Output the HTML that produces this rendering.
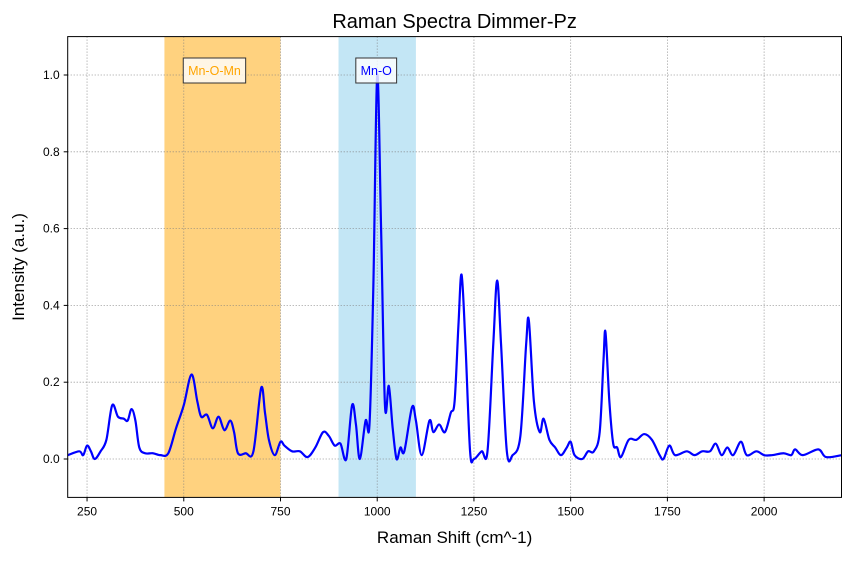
<!DOCTYPE html>
<html><head><meta charset="utf-8"><style>
body{margin:0;background:#fff;font-family:"Liberation Sans",sans-serif}
</style></head><body>
<svg id="chart" width="851" height="556" xmlns="http://www.w3.org/2000/svg" font-family="Liberation Sans, sans-serif"></svg>
<script>
const shiftValues=[200,230,240,250,260,270,285,300,315,330,345,355,365,375,385,400,420,440,460,480,500,520,535,545,560,575,590,605,620,630,640,660,680,700,710,720,735,750,760,780,800,820,840,860,875,890,905,920,935,945,955,970,980,990,1000,1010,1020,1030,1040,1050,1060,1070,1090,1100,1115,1135,1145,1160,1175,1190,1200,1210,1218,1228,1240,1250,1270,1285,1300,1310,1320,1335,1350,1370,1385,1392,1405,1420,1430,1445,1460,1475,1490,1500,1510,1530,1545,1560,1575,1585,1590,1600,1610,1620,1630,1650,1670,1690,1710,1730,1740,1755,1770,1800,1820,1840,1860,1875,1890,1905,1920,1940,1955,1980,2000,2020,2050,2070,2080,2100,2140,2160,2200];
const intensityValues=[0.01,0.02,0.01,0.035,0.02,0.0,0.02,0.05,0.14,0.11,0.105,0.10,0.13,0.10,0.03,0.015,0.015,0.01,0.015,0.08,0.14,0.22,0.15,0.11,0.115,0.08,0.11,0.075,0.10,0.07,0.015,0.015,0.02,0.185,0.12,0.05,0.01,0.045,0.035,0.02,0.02,0.005,0.03,0.07,0.06,0.035,0.04,0.0,0.14,0.09,0.0,0.10,0.09,0.45,1.0,0.6,0.14,0.19,0.08,0.0,0.03,0.02,0.135,0.10,0.01,0.10,0.07,0.09,0.07,0.12,0.15,0.35,0.48,0.30,0.02,0.0,0.02,0.02,0.30,0.465,0.30,0.02,0.01,0.06,0.30,0.36,0.15,0.07,0.105,0.05,0.03,0.01,0.03,0.045,0.01,0.0,0.02,0.02,0.07,0.26,0.33,0.15,0.04,0.03,0.005,0.05,0.05,0.065,0.05,0.01,0.0,0.035,0.01,0.02,0.01,0.02,0.02,0.04,0.01,0.03,0.01,0.045,0.01,0.02,0.01,0.01,0.015,0.01,0.025,0.01,0.025,0.005,0.01];
const xTicks=[250,500,750,1000,1250,1500,1750,2000];
const yTicks=[0.0,0.2,0.4,0.6,0.8,1.0];
const bands=[{from:450,to:750,color:"#ffa500",op:0.5,label:"Mn-O-Mn",tc:"#ffa500"},{from:900,to:1100,color:"#87ceeb",op:0.5,label:"Mn-O",tc:"#0000ff"}];
const L=67.7,R=841.5,T=36.6,B=497.4;
const X=v=>L+(v-200)/2000*(R-L);
const Y=v=>B-(v+0.1)/1.2*(B-T);
const svg=document.getElementById('chart');
const NS="http://www.w3.org/2000/svg";
function mk(tag,attrs,parent){const e=document.createElementNS(NS,tag);for(const k in attrs)e.setAttribute(k,attrs[k]);(parent||svg).appendChild(e);return e;}
const clip=mk('clipPath',{id:'pc'});mk('rect',{x:L,y:T,width:R-L,height:B-T},clip);
bands.forEach(b=>{const r=mk('rect',{x:X(b.from),y:T,width:X(b.to)-X(b.from),height:B-T,fill:b.color,'fill-opacity':b.op});

});
xTicks.forEach(t=>{const g=mk('line',{x1:X(t),x2:X(t),y1:T,y2:B,stroke:'#808080','stroke-dasharray':'1,2','stroke-width':0.8});


mk('line',{x1:X(t),x2:X(t),y1:B,y2:B+4,stroke:'#000'});
const tx=mk('text',{x:X(t),y:B+18,'text-anchor':'middle','font-size':12});tx.textContent=t;

});
yTicks.forEach(t=>{const g=mk('line',{x1:L,x2:R,y1:Y(t),y2:Y(t),stroke:'#808080','stroke-dasharray':'1,2','stroke-width':0.8});


mk('line',{x1:L-4,x2:L,y1:Y(t),y2:Y(t),stroke:'#000'});
const tx=mk('text',{x:L-8,y:Y(t)+4,'text-anchor':'end','font-size':12});tx.textContent=t.toFixed(1);

});
// smooth path
const pts=shiftValues.map((s,i)=>[X(s),Y(intensityValues[i])]);
let d='M'+pts[0][0]+','+pts[0][1];
for(let i=0;i<pts.length-1;i++){const p0=pts[Math.max(0,i-1)],p1=pts[i],p2=pts[i+1],p3=pts[Math.min(pts.length-1,i+2)];
const c1=[p1[0]+(p2[0]-p0[0])/6,p1[1]+(p2[1]-p0[1])/6],c2=[p2[0]-(p3[0]-p1[0])/6,p2[1]-(p3[1]-p1[1])/6];
d+=` C${c1[0]},${c1[1]} ${c2[0]},${c2[1]} ${p2[0]},${p2[1]}`;}
const line=mk('path',{d:d,fill:'none',stroke:'#0000ff','stroke-width':2.2,'clip-path':'url(#pc)'});


bands.forEach(b=>{const cx=(X(b.from)+X(b.to))/2+(b.label==='Mn-O'?-1:-8);const w=b.label.length*7.2+12;
const r=mk('rect',{x:cx-w/2,y:58,width:w,height:25,fill:'#fff','fill-opacity':0.8,stroke:'#333'});


const t=mk('text',{x:cx,y:75,'text-anchor':'middle','font-size':12.5,fill:b.tc});t.textContent=b.label;

});
const fr=mk('rect',{x:L,y:T,width:R-L,height:B-T,fill:'none',stroke:'#000','stroke-width':1});


const tt=mk('text',{x:(L+R)/2,y:28,'text-anchor':'middle','font-size':20});tt.textContent='Raman Spectra Dimmer-Pz';


const xt=mk('text',{x:(L+R)/2,y:543,'text-anchor':'middle','font-size':17});xt.textContent='Raman Shift (cm^-1)';


const yt=mk('text',{x:24,y:(T+B)/2,'text-anchor':'middle','font-size':17,transform:`rotate(-90 24 ${(T+B)/2})`});yt.textContent='Intensity (a.u.)';


</script>
</body></html>
